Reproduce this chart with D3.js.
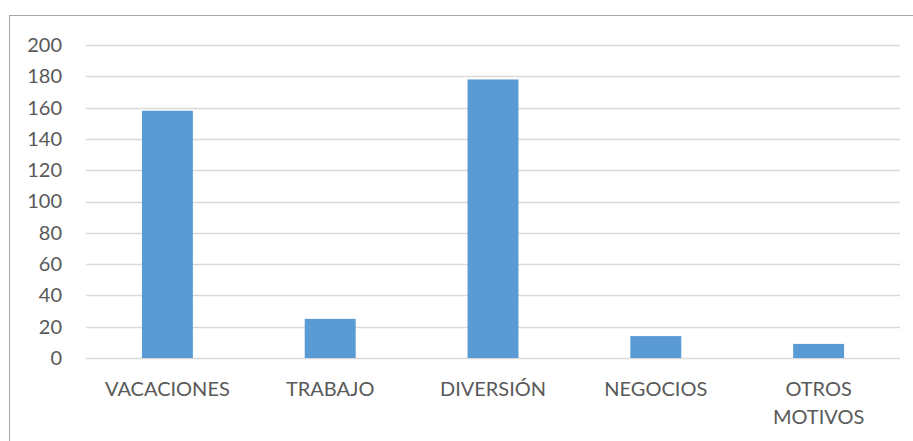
<!DOCTYPE html>
<html>
<head>
<meta charset="utf-8">
<script src="https://cdn.jsdelivr.net/npm/d3@7"></script>
<style>
  html, body { margin: 0; padding: 0; background: #fff; }
  svg { display: block; }
  text { font-family: Lato, "Open Sans", sans-serif; fill: #595959; }
</style>
</head>
<body>
<svg id="chart" width="913" height="441"></svg>
<script>
// Motivo del viaje
const categories = ["VACACIONES", "TRABAJO", "DIVERSIÓN", "NEGOCIOS", "OTROS MOTIVOS"];
const values = [158, 25, 178, 14, 9];
const yTicks = [0, 20, 40, 60, 80, 100, 120, 140, 160, 180, 200];

const W = 913, H = 441;
const margin = { left: 86, right: 13, top: 45, bottom: 83 };

const svg = d3.select("#chart");

// chart frame
svg.append("rect")
  .attr("x", 9.5).attr("y", 15.5)
  .attr("width", W + 20).attr("height", H + 20)
  .attr("fill", "none").attr("stroke", "#a6a6a6").attr("stroke-width", 1);

const x = d3.scaleBand()
  .domain(categories)
  .range([margin.left, W - margin.right])
  .paddingInner(0.687).paddingOuter(0.3435);

const y = d3.scaleLinear().domain([0, 200]).range([H - margin.bottom, margin.top]);

// gridlines
svg.append("g")
  .selectAll("line")
  .data(yTicks)
  .join("line")
  .attr("x1", margin.left).attr("x2", W - margin.right)
  .attr("y1", d => Math.round(y(d)) + 0.5).attr("y2", d => Math.round(y(d)) + 0.5)
  .attr("stroke", "#d9d9d9").attr("stroke-width", 1.5);

// y axis labels
const yAxis = d3.axisLeft(y).tickValues(yTicks).tickSize(0).tickPadding(24);
const gy = svg.append("g").attr("transform", `translate(${margin.left},0)`).call(yAxis);
gy.select(".domain").remove();
gy.selectAll("text").style("font-size", "20px").style("fill", "#595959")
  .style("font-family", "Lato, 'Open Sans', sans-serif");

// bars
svg.append("g")
  .selectAll("rect")
  .data(categories.map((c, i) => ({ c, v: values[i] })))
  .join("rect")
  .attr("x", d => x(d.c))
  .attr("width", x.bandwidth())
  .attr("y", d => y(d.v))
  .attr("height", d => y(0) - y(d.v))
  .attr("fill", "#5b9bd5");

// category labels (wrapped on spaces only where needed)
const xAxis = d3.axisBottom(x).tickSize(0).tickPadding(0);
const gx = svg.append("g").attr("transform", `translate(0,${H - margin.bottom})`).call(xAxis);
gx.select(".domain").remove();
gx.selectAll("text")
  .style("font-size", "20px").style("fill", "#595959")
  .style("font-family", "Lato, 'Open Sans', sans-serif")
  .attr("dy", null).attr("y", 38)
  .each(function(d) {
    const t = d3.select(this);
    const words = d === "OTROS MOTIVOS" ? ["OTROS", "MOTIVOS"] : [d];
    t.text(null);
    words.forEach((w, i) => {
      t.append("tspan").attr("x", 0).attr("y", 38 + i * 28).text(w);
    });
  });
</script>
</body>
</html>
